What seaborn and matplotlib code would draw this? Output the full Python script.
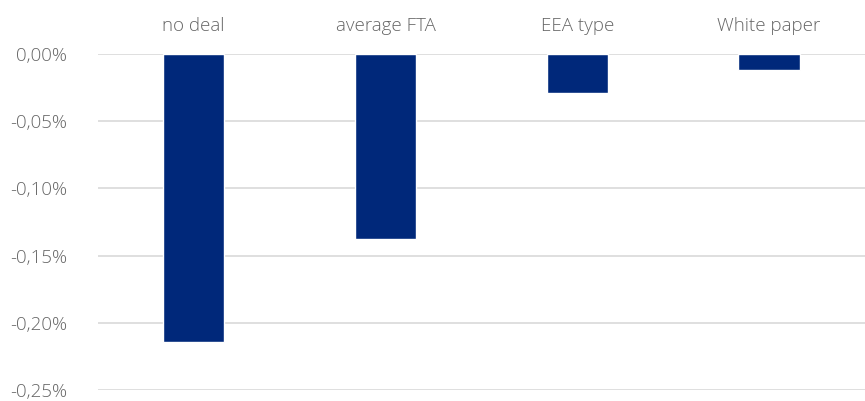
import numpy as np
import pandas as pd
import matplotlib.pyplot as plt
import seaborn as sns
from matplotlib.ticker import FuncFormatter

# Data (percent change)
scenarios = ["no deal", "average FTA", "EEA type", "White paper"]
impact = [-0.214, -0.138, -0.029, -0.012]
y_ticks = [0.0, -0.05, -0.10, -0.15, -0.20, -0.25]

df = pd.DataFrame({"scenario": scenarios, "impact": impact})

sns.set_style("white")
plt.rcParams['font.family'] = ['Open Sans', 'DejaVu Sans']

fig = plt.figure(figsize=(8.65, 4.01), dpi=100)
ax = fig.add_axes([0.113, 0.0274, 0.887, 0.838])

sns.barplot(data=df, x="scenario", y="impact", color="#00287A",
            width=0.32, saturation=1, ax=ax, zorder=3)

ax.set_ylim(-0.25, 0)
ax.set_xlim(-0.5, 3.5)
ax.set_yticks(y_ticks)
ax.yaxis.set_major_formatter(FuncFormatter(lambda v, p: f"{v:.2f}%".replace(".", ",")))
ax.yaxis.grid(True, color="#D9D9D9", linewidth=1.2, zorder=0)
ax.xaxis.tick_top()
ax.tick_params(axis="both", length=0, labelsize=13.5, colors="#666666")
ax.tick_params(axis="x", pad=14)
ax.tick_params(axis="y", pad=22)
for lab in ax.get_xticklabels() + ax.get_yticklabels():
    lab.set_fontweight("light")
ax.set_xlabel("")
ax.set_ylabel("")
for s in ax.spines.values():
    s.set_visible(False)

plt.savefig("out.png", dpi=100)
